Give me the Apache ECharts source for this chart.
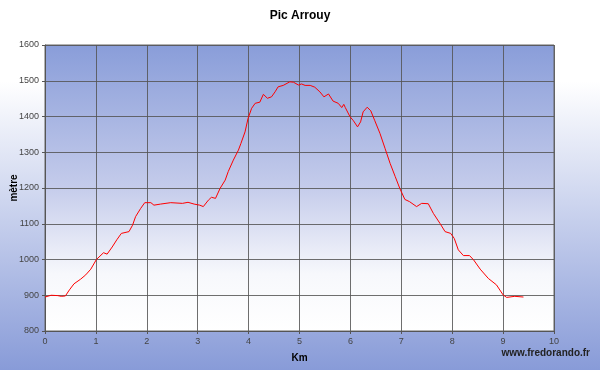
<!DOCTYPE html>
<html><head><meta charset="utf-8">
<script src="https://cdn.jsdelivr.net/npm/echarts@6/dist/echarts.min.js"></script>
<style>html,body{margin:0;padding:0;}#c{width:600px;height:370px;}</style>
</head><body><div id="c"></div>
<script>
const title = "Pic Arrouy";
const xName = "Km";
const yName = "mètre";
const credit = "www.fredorando.fr";
const km = [0,0.12,0.25,0.32,0.4,0.48,0.57,0.7,0.8,0.9,1.01,1.15,1.22,1.32,1.41,1.5,1.65,1.72,1.78,1.88,1.96,2.08,2.14,2.27,2.47,2.7,2.81,2.93,3.04,3.11,3.21,3.27,3.35,3.44,3.54,3.6,3.7,3.8,3.85,3.93,3.99,4.06,4.13,4.22,4.29,4.37,4.45,4.52,4.58,4.68,4.81,4.88,4.98,5.04,5.11,5.21,5.3,5.4,5.48,5.57,5.66,5.76,5.83,5.87,5.9,5.99,6.06,6.14,6.2,6.25,6.33,6.4,6.48,6.58,6.68,6.78,6.88,6.97,7.07,7.16,7.3,7.4,7.53,7.63,7.76,7.86,7.97,8.04,8.12,8.22,8.34,8.42,8.55,8.71,8.87,9.0,9.07,9.23,9.4];
const elev = [895,900,899,897,898,915,932,945,957,973,1000,1019,1015,1035,1055,1073,1078,1096,1120,1143,1159,1159,1152,1155,1159,1157,1160,1155,1152,1148,1166,1174,1171,1199,1222,1246,1278,1306,1325,1357,1395,1423,1437,1440,1462,1451,1455,1469,1483,1487,1497,1496,1488,1491,1487,1487,1482,1469,1455,1463,1443,1437,1425,1434,1425,1400,1388,1371,1385,1413,1426,1416,1388,1353,1311,1269,1232,1199,1168,1162,1148,1157,1156,1129,1101,1078,1073,1059,1027,1011,1011,999,973,947,929,901,894,897,895];
const yTicks = [800,900,1000,1100,1200,1300,1400,1500,1600];
const xTicks = [0,1,2,3,4,5,6,7,8,9,10];

const chart = echarts.init(document.getElementById('c'));
const font = 'Liberation Sans, Arial, sans-serif';
chart.setOption({
  animation:false,
  backgroundColor:{type:'linear',x:0,y:0,x2:0,y2:1,colorStops:[{offset:0,color:'#ffffff'},{offset:0.22,color:'#ffffff'},{offset:1,color:'#889bd8'}]},
  title:{text:title,left:'center',top:5,textStyle:{fontFamily:font,fontSize:12,fontWeight:'bold',color:'#000'}},
  grid:{left:45,right:46,top:45,bottom:39,containLabel:false,outerBoundsMode:'none',show:true,borderColor:'#666',borderWidth:1,
    backgroundColor:{type:'linear',x:0,y:0,x2:0,y2:1,colorStops:[{offset:0,color:'#899dd9'},{offset:0.5,color:'#c5cceb'},{offset:0.8,color:'#f7f8fc'},{offset:1,color:'#ffffff'}]}},
  xAxis:{type:'value',min:xTicks[0],max:xTicks[xTicks.length-1],interval:1,
    name:xName,nameLocation:'middle',nameGap:22,nameMoveOverlap:false,nameTextStyle:{fontFamily:font,fontSize:10,fontWeight:'bold',color:'#000'},
    axisLine:{lineStyle:{color:'#555'}},axisTick:{show:true,length:3,lineStyle:{color:'#555'}},
    axisLabel:{fontFamily:font,fontSize:9,color:'#444',margin:6,formatter:v=>String(v)},
    splitLine:{show:true,lineStyle:{color:'#555',width:1,opacity:0.85}}},
  yAxis:{type:'value',min:yTicks[0],max:yTicks[yTicks.length-1],interval:100,
    name:yName,nameLocation:'middle',nameGap:26,nameRotate:90,nameMoveOverlap:false,nameTextStyle:{fontFamily:font,fontSize:10,fontWeight:'bold',color:'#000'},
    axisLine:{show:true,lineStyle:{color:'#555'}},axisTick:{show:true,length:3,lineStyle:{color:'#555'}},
    axisLabel:{fontFamily:font,fontSize:9,color:'#444',margin:6,formatter:v=>String(v)},
    splitLine:{show:true,lineStyle:{color:'#555',width:1,opacity:0.85}}},
  graphic:[{type:'text',right:10,top:348,style:{text:credit,fontFamily:font,fontSize:10,fontWeight:'bold',fill:'#222'}}],
  series:[{type:'line',data:km.map((k,i)=>[k,elev[i]]),showSymbol:false,symbol:'none',
    lineStyle:{color:'#ff0000',width:1},itemStyle:{color:'#ff0000'}}]
});
</script></body></html>
